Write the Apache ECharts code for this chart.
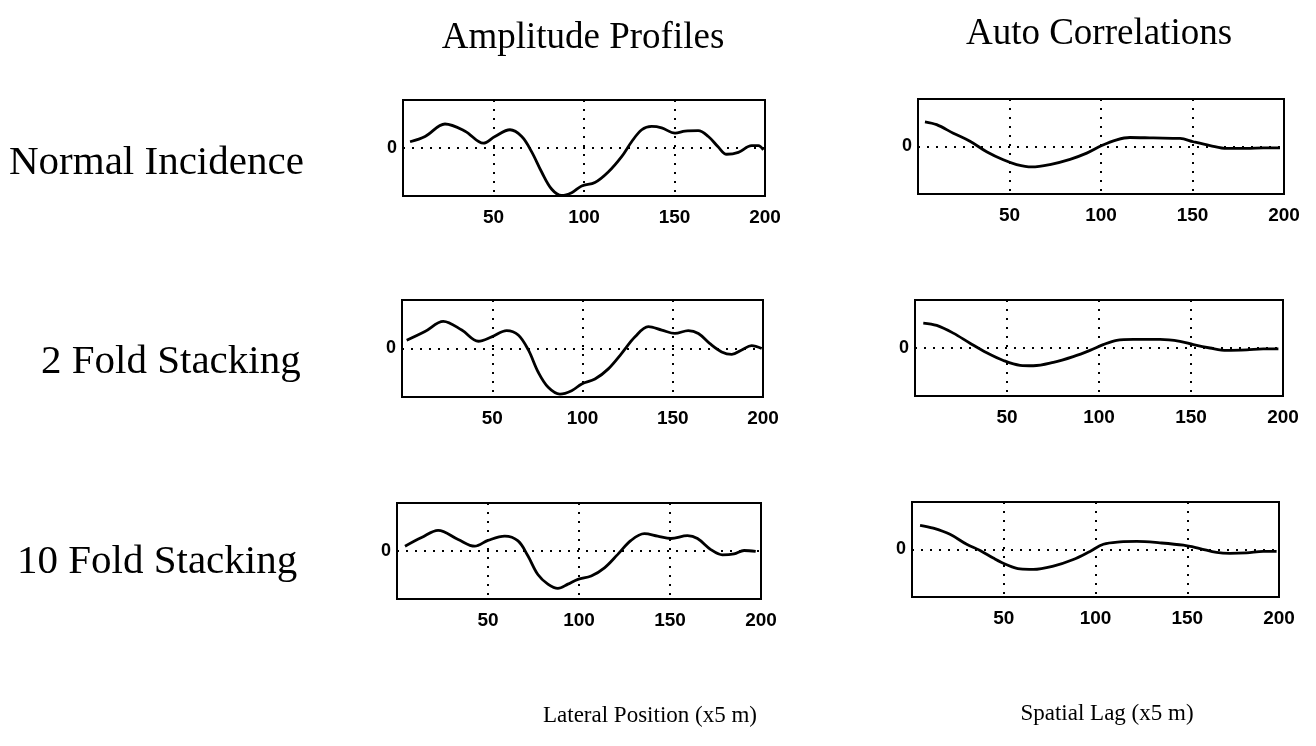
<!DOCTYPE html>
<html><head><meta charset="utf-8">
<script src="https://cdn.jsdelivr.net/npm/echarts@6/dist/echarts.min.js"></script>
<style>html,body{margin:0;padding:0;background:#fff}#c{width:1316px;height:746px}</style>
</head><body><div id="c"></div>
<script>
const rowLabels = ['Normal Incidence', '2 Fold Stacking', '10 Fold Stacking'];
const colTitles = ['Amplitude Profiles', 'Auto Correlations'];
const axisTitles = ['Lateral Position (x5 m)', 'Spatial Lag (x5 m)'];
const xTickLabels = ['50', '100', '150', '200'];
const yTickLabels = ['0'];

const ampNormal = [[3.9,0.13],[12.2,0.24],[23.2,0.50],[34.3,0.35],[44.4,0.10],[50.8,0.24],[59.1,0.38],[65.6,0.24],[71.1,-0.08],[76.6,-0.50],[82.2,-0.86],[87.7,-0.99],[93.2,-0.93],[98.7,-0.79],[106,-0.72],[113.4,-0.50],[120.8,-0.18],[126.3,0.13],[131.9,0.38],[137.4,0.45],[142.9,0.42],[150.3,0.31],[155.8,0.35],[163.1,0.36],[168.7,0.24],[174.2,0.02],[178.8,-0.13],[185.3,-0.09],[192.6,0.05],[196.3,0.05],[199.1,-0.04]];
const amp2Fold = [[2.6,0.17],[12.7,0.35],[22.9,0.56],[33.1,0.38],[42.3,0.15],[49.7,0.24],[58,0.37],[64.4,0.28],[70,-0.03],[75.5,-0.49],[81,-0.80],[87.5,-0.94],[94,-0.87],[99.6,-0.73],[106.9,-0.63],[114.3,-0.42],[121.7,-0.10],[129.1,0.24],[136.5,0.45],[143.9,0.38],[151.2,0.31],[158.6,0.37],[164.2,0.31],[170.6,0.10],[177.1,-0.07],[182.7,-0.12],[188.2,-0.03],[193.7,0.06],[199.3,0]];
const amp10Fold = [[4.4,0.10],[13.5,0.28],[22.6,0.43],[33.6,0.24],[42.7,0.10],[50,0.22],[59.2,0.31],[66.5,0.21],[71.9,-0.10],[77.4,-0.49],[82.9,-0.69],[88.4,-0.78],[93.9,-0.69],[99.4,-0.59],[106.7,-0.52],[114,-0.35],[121.3,-0.07],[128.6,0.22],[135.9,0.36],[143.2,0.31],[150.5,0.26],[159.6,0.32],[165.1,0.26],[172.4,0.03],[178.8,-0.08],[185.2,-0.06],[190.7,0.01],[197.1,-0.01]];
const acNormal = [[3.8,0.52],[10.2,0.46],[19.3,0.28],[28.4,0.11],[37.5,-0.11],[46.6,-0.28],[53.9,-0.38],[62.1,-0.43],[72.1,-0.38],[83.1,-0.27],[92.2,-0.14],[100.4,0.02],[108.6,0.14],[115.8,0.19],[128.6,0.18],[143.2,0.17],[150.4,0.10],[159.6,0.02],[168.7,-0.04],[179.6,-0.04],[188.8,-0.03],[197.8,-0.03]];
const ac2Fold = [[4.5,0.52],[11.8,0.47],[20.8,0.31],[29.9,0.10],[39,-0.10],[48,-0.26],[57.1,-0.36],[64.3,-0.37],[75.2,-0.30],[86,-0.18],[95.1,-0.05],[102.3,0.07],[109.6,0.16],[118.6,0.18],[133.2,0.18],[144,0.14],[151.3,0.07],[160.3,0],[169.4,-0.05],[180.3,-0.04],[189.3,-0.02],[197.5,-0.02]];
const ac10Fold = [[4.4,0.51],[11.6,0.45],[20.7,0.32],[29.8,0.11],[37.1,-0.02],[44.3,-0.18],[51.6,-0.32],[58.9,-0.41],[66.1,-0.42],[77,-0.35],[87.9,-0.21],[97,-0.04],[104.3,0.11],[113.4,0.16],[122.5,0.17],[135.1,0.14],[147.9,0.09],[156.9,0.02],[166,-0.06],[173.3,-0.08],[182.4,-0.07],[191.4,-0.04],[198.7,-0.04]];

const panels = [ampNormal, acNormal, amp2Fold, ac2Fold, amp10Fold, ac10Fold];
const gridBoxes = [
  {left: 403, top: 100, width: 362, height: 96},
  {left: 918, top: 99, width: 366, height: 95},
  {left: 402, top: 300, width: 361, height: 97},
  {left: 915, top: 300, width: 368, height: 96},
  {left: 397, top: 503, width: 364, height: 96},
  {left: 912, top: 502, width: 367, height: 95}
];

const dotted = {color: '#000', width: 2, type: [2, 7]};
const chart = echarts.init(document.getElementById('c'), null, {renderer: 'canvas'});
const serif = '"Liberation Serif", "Times New Roman", serif';
const option = {
  backgroundColor: '#fff',
  animation: false,
  grid: gridBoxes.map(b => Object.assign({show: true, borderColor: '#000', borderWidth: 2, backgroundColor: 'transparent'}, b)),
  xAxis: gridBoxes.map((b, i) => ({
    type: 'value', gridIndex: i, min: 0, max: 200, interval: 50,
    axisLine: {show: false}, axisTick: {show: false},
    splitLine: {show: true, lineStyle: dotted},
    axisLabel: {
      show: true, margin: 12, color: '#000', fontFamily: 'Liberation Sans, Arial, sans-serif', fontWeight: 'bold', fontSize: 19,
      formatter: v => xTickLabels.indexOf(String(v)) >= 0 ? String(v) : ''
    }
  })),
  yAxis: gridBoxes.map((b, i) => ({
    type: 'value', gridIndex: i, min: -1, max: 1, interval: 1,
    axisLine: {show: false}, axisTick: {show: false},
    splitLine: {show: true, lineStyle: dotted},
    axisLabel: {
      show: true, margin: 6, color: '#000', fontFamily: 'Liberation Sans, Arial, sans-serif', fontWeight: 'bold', fontSize: 18,
      formatter: v => yTickLabels.indexOf(String(v)) >= 0 ? String(v) : ''
    }
  })),
  series: panels.map((d, i) => ({
    type: 'line', xAxisIndex: i, yAxisIndex: i, data: d,
    smooth: 0.35, showSymbol: false, symbol: 'none',
    lineStyle: {color: '#000', width: 2.8}, z: 5
  })),
  graphic: [
    {type: 'text', x: 583, y: 38, style: {text: colTitles[0], font: '37px ' + serif, fill: '#000', align: 'center', verticalAlign: 'middle'}},
    {type: 'text', x: 1099, y: 34, style: {text: colTitles[1], font: '37px ' + serif, fill: '#000', align: 'center', verticalAlign: 'middle'}},
    {type: 'text', x: 9, y: 163, style: {text: rowLabels[0], font: '41px ' + serif, fill: '#000', verticalAlign: 'middle', align: 'left'}},
    {type: 'text', x: 41, y: 362, style: {text: rowLabels[1], font: '41px ' + serif, fill: '#000', verticalAlign: 'middle', align: 'left'}},
    {type: 'text', x: 17, y: 562, style: {text: rowLabels[2], font: '41px ' + serif, fill: '#000', verticalAlign: 'middle', align: 'left'}},
    {type: 'text', x: 650, y: 716, style: {text: axisTitles[0], font: '23px ' + serif, fill: '#000', verticalAlign: 'middle', align: 'center'}},
    {type: 'text', x: 1107, y: 714, style: {text: axisTitles[1], font: '23px ' + serif, fill: '#000', verticalAlign: 'middle', align: 'center'}}
  ]
};
chart.setOption(option);
</script></body></html>
